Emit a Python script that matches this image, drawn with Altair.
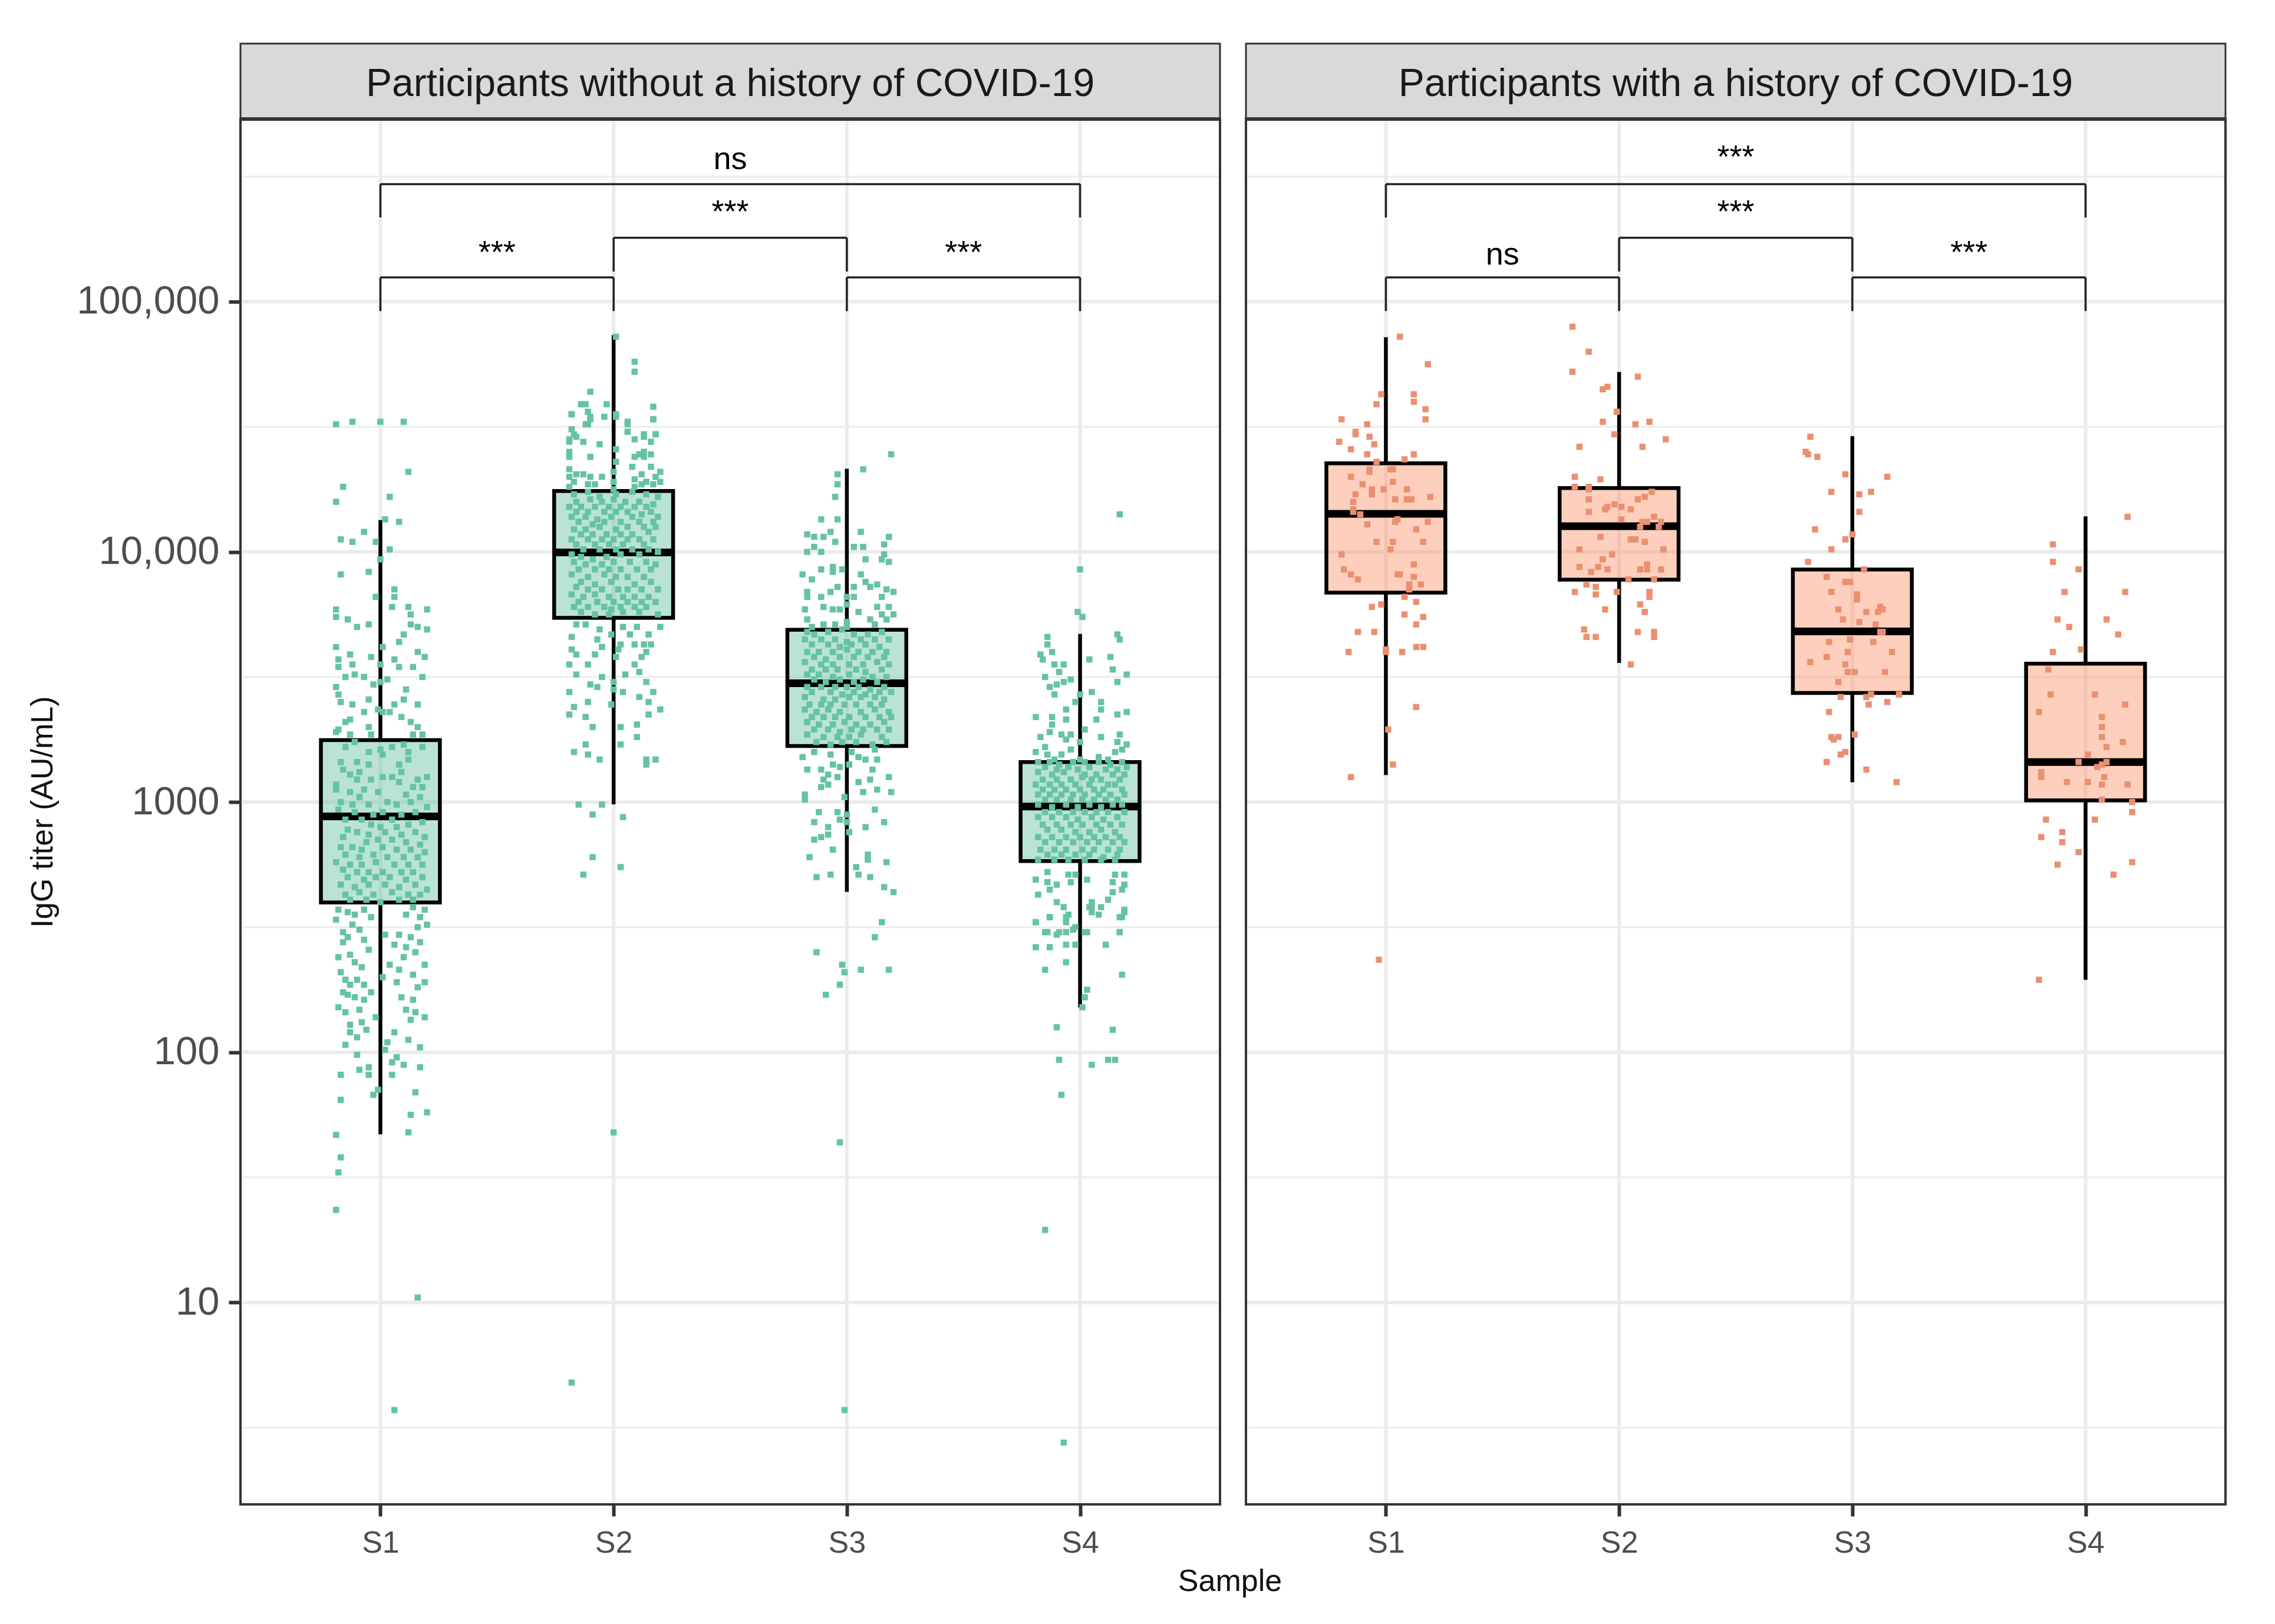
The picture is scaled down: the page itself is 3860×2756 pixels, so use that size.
import altair as alt
import pandas as pd

W, H = 1662, 2351
FONT = "Liberation Sans"
samples = ["S1", "S2", "S3", "S4"]
major_ticks = [10, 100, 1000, 10000, 100000]
minor_ticks = [3.162, 31.62, 316.2, 3162, 31623, 316228]
titles = ["Participants without a history of COVID-19", "Participants with a history of COVID-19"]

# box statistics (low whisker, q1, median, q3, high whisker), AU/mL
low_a = [47, 980, 438, 151]
q1_a = [397, 5450, 1676, 581]
med_a = [877, 9950, 2985, 960]
q3_a = [1770, 17500, 4885, 1445]
high_a = [13400, 73500, 21500, 4700]
low_b = [1283, 3600, 1200, 195]
q1_b = [6870, 7740, 2730, 1016]
med_b = [14200, 12670, 4810, 1445]
q3_b = [22600, 18000, 8500, 3575]
high_b = [72100, 52400, 29000, 13860]

# comparison brackets: from, to, level, tip
br_from = [1, 2, 1, 3]
br_to = [4, 3, 2, 4]
br_level = [295000, 180000, 125000, 125000]
br_tip = [217000, 132000, 91700, 91700]
# significance labels
sig_pos = [2.5, 2.5, 1.5, 3.5]
sig_a_txt = ["ns", "***", "***", "***"]
sig_a_y = [339000, 208000, 143000, 143000]
sig_b_txt = ["***", "***", "ns", "***"]
sig_b_y = [345000, 208000, 141000, 143000]

# individual titers: (horizontal jitter in 1/100 of a sample slot, 100*log10 titer)
a1 = [(-19,451),(-12,452),(0,452),(10,452),(12,432),(-16,426),(4,422),(-19,420),(2,413),(8,412),(-7,408),(-17,405),(-12,404),(-2,404),(4,401),(0,397),(-17,391),(-5,392),(6,385),(6,382),(-2,382),(5,378),(12,378),(20,377),(-19,377),(-19,374),(13,375),(-14,373),(-10,370),(-5,371),(16,370),(20,369),(13,371),(10,367),(1,362),(8,364),(-19,362),(-13,359),(-4,358),(6,357),(16,360),(19,358),(-18,357),(-18,354),(-12,355),(0,355),(8,354),(14,354),(18,350),(-7,350),(-11,351),(-15,350),(3,349),(0,348),(-3,347),(-19,346),(-18,343),(11,345),(10,341),(-5,341),(-17,340),(-12,339),(16,339),(6,339),(-1,337),(1,336),(4,336),(-7,336),(-13,333),(-15,332),(-18,329),(-19,328),(9,334),(13,332),(16,330),(14,327),(18,327),(-5,330),(-4,327),(-13,327),
(-15,322),(-11,324),(-5,320),(0,321),(5,322),(10,323),(12,320),(18,322),(-17,316),(-10,316),(-5,315),(1,319),(8,315),(12,317),(-16,313),(-13,311),(-9,312),(9,312),(5,310),(20,310),(16,309),(-19,307),(-10,309),(-4,309),(1,310),(8,308),(14,306),(18,306),(-19,305),(-13,304),(-7,305),(-1,304),(11,303),(17,302),(-17,300),(-9,302),(-12,299),(-5,299),(3,300),(7,299),(13,300),(20,298),(-18,297),(-11,296),(-3,295),(1,296),(9,295),(15,296),(5,293),(-15,293),(-8,293),(-4,291),(0,290),(12,291),(18,292),(7,290),(-14,289),(-10,288),(-5,287),(2,288),(9,287),(15,288),(19,286),(-16,286),(-6,284),(-1,285),(5,285),(11,284),(17,283),(-17,282),(-12,282),(-8,281),(1,282),(7,281),(13,281),(19,280),(-15,279),(-9,278),(-3,279),(3,278),(10,278),(16,278),(-19,276),(-13,275),(-8,275),(-2,276),(6,275),(12,275),(18,275),(-16,273),(-10,272),(-5,272),(1,272),(9,272),(14,272),(-14,270),(-7,269),(-2,270),(4,270),(11,269),(18,270),(-17,267),(-11,266),(-5,267),(2,267),(8,266),(15,267),(20,265),(-15,263),(-9,264),(-3,263),(5,264),(12,263),(17,263),(-13,261),(-6,261),(0,260),(8,261),(14,261),
(-18,257),(-11,255),(-4,254),(11,255),(17,254),(20,251),(-16,248),(-9,249),(2,247),(8,247),(13,246),(17,244),(-16,244),(-5,241),(6,243),(-13,239),(-18,238),(10,238),(19,235),(4,235),(-17,232),(1,230),(7,228),(19,228),(-13,227),(-7,227),(-14,223),(-4,224),(-7,221),(14,221),(11,217),(-18,218),(19,214),(13,213),(-2,214),(-13,211),(-8,212),(-13,208),(-10,206),(3,204),(17,202),(-10,199),(2,201),(7,198),(10,195),(17,194),(-5,194),(-5,191),(-17,191),(5,191),(-1,185),(15,184),(-3,183),(-17,181),(13,175),(20,176),(12,168),(-19,167),(-17,158),(-18,152),(-19,137),(16,102),(6,57),
(-14,256),(-7,257),(14,258),(19,257),(-19,253),(-12,251),(16,250),(-14,246),(-7,245),(11,242),(15,240),(-11,236),(-8,234),(8,233),(14,231),(-15,229),(-10,229),(16,226),(-16,224),(-11,222),(9,222),(-15,216),(-9,217),(15,216),(-6,209),(6,208),(12,205),(-15,203),(5,196),(-9,193)]
a2 = [(1,486),(9,476),(9,472),(-10,464),(-14,459),(-12,459),(-3,459),(-11,456),(-18,455),(1,455),(17,458),(-4,454),(-10,453),(17,453),(6,452),(-12,451),(-18,449),(6,448),(13,446),(18,447),(9,445),(-19,445),(-16,446),(-18,455),(-10,454),(1,454),(17,453),(-11,451),(6,451),(6,448),(-17,447),(13,447),(18,447),(-13,444),(-19,444),(-6,443),(16,444),(1,441),(9,438),(13,440),(-19,440),(16,439),(-10,438),(1,436),(-19,438),(8,434),(13,438),(11,439),(16,434),(-19,433),(20,432),(-13,431),(-10,430),(0,432),(-5,430),(12,431),(18,430),(-19,430),(-16,431),(-17,428),(-11,427),(-8,427),(0,428),(9,429),(14,428),(20,428),(-19,426),(17,427),(0,425),(9,426),(12,427),
(-17,423),(-11,424),(-6,422),(1,423),(8,424),(14,423),(19,422),(-16,420),(-10,421),(-5,420),(0,421),(5,420),(11,420),(17,419),(-19,418),(-14,418),(-8,418),(-2,418),(3,418),(9,418),(14,418),(-16,416),(-11,416),(-4,416),(1,416),(6,416),(12,415),(16,416),(-18,414),(-12,414),(-7,413),(-1,414),(8,414),(19,414),(-15,412),(-9,411),(-4,412),(3,412),(11,412),(17,412),(-17,409),(-12,409),(-6,410),(1,409),(6,410),(13,410),(18,410),(-14,407),(-9,407),(-3,407),(3,407),(8,407),(15,408),(-18,405),(-11,405),(-5,405),(0,405),(6,405),(11,405),(17,405),(-16,403),(-8,403),(-2,403),(4,403),(13,403),(-13,401),(-6,401),(1,401),(8,401),(15,401),(19,400),(-18,399),(-14,398),(-3,398),(3,399),(11,399),(-9,397),(-17,396),(-12,395),(-5,395),(0,396),(7,396),(14,396),(18,395),(-15,393),(-8,393),(-2,393),(3,393),(10,393),(16,393),(-18,391),(-11,390),(-4,391),(1,390),(6,390),(13,390),(-14,388),(-8,387),(-1,388),(9,387),(16,388),(-16,386),(-11,385),(-5,385),(2,385),(6,385),(12,385),(19,385),(-18,383),(-13,382),(-8,383),(-2,382),(4,382),(9,382),(15,382),(-15,380),(-7,380),(0,380),(6,380),(12,380),(18,380),(-17,378),(-11,378),(-4,378),(-1,377),(3,378),(9,378),(14,378),(-14,376),(-8,375),(-2,375),(4,376),(11,376),(19,375),
(-16,371),(-12,371),(-6,369),(4,370),(10,370),(15,367),(20,370),(-18,366),(-7,365),(-1,367),(7,367),(3,363),(9,363),(13,363),(16,363),(-18,361),(-5,362),(-16,359),(-8,359),(2,361),(14,360),(12,358),(-19,355),(-11,355),(1,358),(9,355),(-16,351),(-5,350),(11,352),(5,351),(-10,347),(0,348),(14,348),(-7,346),(0,345),(17,344),(-19,344),(4,344),(11,342),(-11,340),(-1,339),(15,340),(-17,338),(20,337),(-19,335),(-12,334),(15,335),(-9,330),(3,330),(10,331),(10,326),(3,323),(-12,323),(-17,320),(-11,319),(-6,317),(14,317),(18,317),(14,315),(-15,299),(-5,299),(-9,295),(4,294),(-9,278),(3,274),(-13,271),(0,168),(-18,68)]
a3 = [(19,439),(7,433),(-4,431),(-4,427),(-5,422),(-11,413),(-4,413),(6,408),(-7,408),(-17,407),(-14,406),(-10,406),(-5,404),(18,406),(16,403),(3,402),(7,402),(-17,400),(-14,402),(-11,400),(16,399),(8,397),(15,397),(18,396),(-11,393),(-6,394),(-2,393),(-6,392),(-19,391),(-15,389),(6,391),(8,388),(13,387),(3,386),(-4,386),(-17,384),(-7,384),(10,386),(17,385),(20,384),(15,382),(0,382),(3,382),(-11,382),(-17,382),(-10,378),(-18,377),(-6,377),(-3,377),(5,376),(13,378),(18,378),(20,375),(0,379),(15,375),(-17,373),(10,373),(17,373),(-10,371),(-5,371),(0,372),(-15,370),(12,371),(0,370),
(-17,368),(-14,367),(-8,368),(-2,369),(3,367),(9,367),(15,368),(-18,365),(-11,365),(-5,365),(0,364),(6,365),(12,365),(18,365),(-15,363),(-8,363),(-3,362),(2,363),(8,363),(14,362),(-17,360),(-12,360),(-6,360),(0,361),(5,360),(11,360),(17,360),(-14,358),(-9,357),(-3,358),(3,358),(9,358),(16,358),(-18,356),(-11,355),(-6,355),(1,355),(7,355),(13,356),(18,355),(-15,353),(-9,353),(-4,353),(4,353),(8,352),(15,353),(-17,351),(-12,351),(-6,350),(1,351),(11,350),(17,350),(-14,349),(-9,348),(-3,349),(3,348),(7,349),(13,348),(-17,346),(-11,346),(-5,346),(0,346),(5,346),(10,345),(16,346),(-15,344),(-7,344),(-2,343),(3,344),(8,343),(14,344),(19,344),(-18,342),(-10,341),(-5,341),(1,342),(6,342),(12,342),(16,341),(-16,339),(-11,339),(-7,339),(-1,339),(4,339),(10,339),(15,339),(-18,337),(-13,336),(-8,337),(-3,336),(6,336),(12,337),(18,336),(-15,334),(-10,334),(-5,334),(1,334),(8,334),(14,334),(19,334),(-17,332),(-12,331),(-6,331),(-1,332),(4,331),(10,331),(16,332),(-14,329),(-8,329),(-3,328),(2,329),(7,329),(13,329),(18,329),(-17,327),(-10,326),(-4,326),(1,326),(6,327),(15,326),(-13,324),(-7,323),(-2,324),(4,324),(11,323),(17,324),
(-14,320),(-19,318),(-7,319),(2,320),(5,318),(8,317),(12,321),(13,317),(-17,313),(-6,315),(-3,314),(1,315),(-11,313),(-8,311),(11,313),(-4,310),(-10,309),(5,308),(10,309),(18,310),(-11,306),(-8,307),(7,304),(13,305),(19,304),(-18,303),(-1,302),(-18,301),(-12,296),(-4,296),(0,295),(12,297),(-3,293),(0,292),(16,292),(-14,292),(-8,290),(8,290),(1,288),(-11,286),(-8,287),(-14,285),(-6,281),(-16,278),(9,279),(9,277),(4,274),(17,276),(-13,270),(-7,271),(5,271),(10,270),(16,266),(20,264),(15,252),(12,246),(-13,240),(-2,235),(-1,232),(6,233),(18,233),(-3,227),(-9,223),(-3,164),(-1,57)]
a4 = [(17,415),(0,393),(-1,376),(1,374),(-14,366),(-14,363),(16,367),(17,365),(-17,359),(-12,360),(-16,357),(4,357),(13,358),(14,353),(20,351),(-11,355),(-7,355),(-9,352),(-15,350),(-7,348),(-4,349),(16,348),(-13,346),(-10,347),(-11,343),(5,344),(-2,340),(9,340),(0,343),(9,337),(20,336),(16,335),(-6,337),(-19,334),(-12,334),(-6,333),(7,333),(-12,331),(2,329),(-13,328),(-8,327),(-4,327),(9,326),(17,327),(-17,326),(0,324),(-6,325),(16,324),(20,323),(-15,322),(-4,321),(18,321),(15,320),(-19,320),(-14,319),(-8,319),(8,318),(12,317),(-11,317),(0,317),
(-18,316),(-13,316),(-9,315),(-3,316),(2,316),(8,316),(13,315),(18,316),(-15,314),(-10,313),(-5,314),(-1,313),(4,314),(11,313),(16,313),(20,314),(-18,312),(-12,311),(-7,312),(2,311),(7,311),(14,311),(19,311),(-16,309),(-10,309),(-4,309),(1,310),(5,309),(9,309),(17,309),(-19,307),(-13,307),(-8,307),(-2,307),(4,307),(12,307),(15,307),(-16,305),(-11,305),(-6,305),(0,305),(6,305),(10,305),(18,305),(-18,303),(-13,303),(-8,303),(-3,303),(2,303),(8,303),(13,303),(19,303),(-15,301),(-10,301),(-4,301),(1,301),(6,301),(11,301),(16,301),(-18,299),(-12,298),(-6,299),(-1,298),(4,299),(9,298),(14,299),(18,299),(-15,296),(-9,296),(-3,296),(2,296),(7,296),(12,296),(19,296),(-18,294),(-12,294),(-6,294),(-1,293),(5,294),(10,293),(16,294),(-16,291),(-10,291),(-4,291),(1,291),(7,291),(13,291),(18,291),(-14,289),(-8,289),(-2,288),(4,288),(9,289),(15,288),(-18,286),(-12,286),(-6,286),(0,286),(6,286),(11,286),(17,286),(-15,284),(-9,284),(-3,284),(3,284),(8,284),(14,284),(19,284),(-17,281),(-11,281),(-6,281),(1,281),(6,281),(12,281),(17,281),(-14,279),(-8,279),(-2,279),(4,279),(10,278),(16,279),(-18,277),(-11,277),(-5,277),(2,277),(9,277),(15,277),
(-14,272),(-5,271),(3,269),(-19,269),(-14,268),(-2,271),(15,271),(19,271),(14,268),(-10,267),(-4,268),(19,267),(-13,265),(-18,263),(14,264),(18,265),(-10,260),(5,260),(12,261),(-7,258),(4,258),(9,258),(19,257),(-5,255),(5,256),(-13,254),(-19,252),(-6,252),(17,254),(-2,250),(3,248),(-14,248),(-9,248),(-6,248),(17,248),(-19,252),(-13,254),(-6,254),(5,258),(8,255),(19,256),(18,254),(-15,248),(-10,247),(-3,249),(2,248),(17,248),(-19,242),(-13,242),(-6,243),(-2,243),(11,243),(-6,236),(-15,233),(18,231),(3,225),(2,222),(1,218),(-10,210),(14,209),(-9,197),(5,195),(12,197),(15,197),(-8,183),(-15,129),(-7,44)]
b1 = [(6,486),(18,475),(-2,463),(12,463),(-4,459),(12,460),(17,457),(17,453),(-19,453),(-8,451),(-13,448),(-13,447),(-7,446),(-20,444),(-5,443),(-15,441),(-8,439),(12,439),(8,437),(-4,436),(-7,433),(-7,432),(2,433),(3,433),(-15,430),(3,428),(-10,427),(-13,423),(-6,425),(-6,423),(-1,425),(9,425),(19,422),(4,421),(9,421),(11,421),(-14,420),(-14,417),(-14,416),(-11,415),(4,412),(5,413),(18,412),(-8,411),(13,409),(-4,404),(3,404),(16,404),(2,401),(-19,399),(12,395),(-18,393),(-15,391),(-12,389),(5,391),(6,391),(12,390),(10,387),(15,387),(10,385),(8,382),(13,380),(-2,379),(-6,378),(8,375),(16,374),(13,371),(-12,368),(-5,368),(13,362),(16,362),(-16,360),(0,361),(7,360),(0,360),(13,338),(1,329),(3,315),(-15,310),(-3,237)]
b2 = [(-20,490),(-13,480),(-20,472),(8,470),(-7,465),(-5,466),(-1,456),(-7,452),(7,451),(13,452),(-2,447),(20,445),(-17,442),(10,442),(-19,430),(-8,429),(-19,426),(-13,426),(-13,425),(14,424),(11,422),(8,421),(-13,421),(-5,418),(-6,417),(-2,419),(1,418),(5,417),(-13,416),(1,413),(15,414),(12,412),(10,412),(9,410),(18,412),(17,410),(-8,406),(5,405),(7,405),(11,404),(-17,401),(19,401),(-3,399),(-7,397),(-17,394),(-9,394),(-5,393),(-12,392),(12,395),(9,393),(12,393),(18,393),(4,389),(15,389),(-14,387),(-10,386),(-19,384),(-10,383),(-1,384),(13,384),(13,382),(9,379),(11,376),(-6,377),(-15,369),(-14,366),(-10,366),(8,368),(15,368),(15,366),(5,355)]
b3 = [(-18,446),(-20,440),(-19,439),(-15,438),(-3,431),(15,430),(-9,424),(3,423),(8,424),(3,416),(-16,409),(0,407),(-3,405),(-9,401),(-19,396),(5,393),(-11,390),(-3,388),(-1,388),(-9,384),(2,383),(2,381),(-6,377),(6,376),(11,376),(12,378),(13,377),(-4,373),(3,372),(10,371),(12,368),(13,368),(-1,365),(-10,364),(9,364),(-2,360),(-11,358),(17,360),(-18,356),(-3,355),(-2,352),(1,352),(14,352),(-6,348),(-5,342),(6,342),(8,343),(20,343),(7,339),(15,340),(-10,336),(1,327),(-9,326),(-8,325),(-6,326),(-3,320),(-5,319),(-11,316),(6,313),(19,308)]
b4 = [(18,414),(-14,403),(-14,396),(-3,393),(-9,384),(17,384),(-12,373),(9,373),(-7,370),(14,367),(-2,361),(-14,360),(-16,353),(-15,343),(4,343),(17,339),(-20,336),(7,334),(7,330),(7,326),(9,322),(16,324),(1,319),(-3,316),(9,316),(7,315),(5,314),(-19,312),(-19,310),(8,310),(-8,308),(1,308),(7,307),(18,307),(7,301),(20,300),(20,296),(-17,293),(4,293),(-10,288),(-19,286),(-10,284),(-3,280),(-12,275),(20,276),(12,271),(-20,229)]


def points_frame(cols):
    rows = []
    for i, col in enumerate(cols):
        for dx, lg in col:
            rows.append({"pos": i + 1 + dx / 100, "titer": 10 ** (lg / 100)})
    return pd.DataFrame(rows)


xs = alt.Scale(domain=[0.4, 4.6], nice=False, zero=False)
ys = alt.Scale(type="log", domain=[1.56, 537000], nice=False)
TICK = "#333333"


def panel(cols, low, q1, med, q3, high, dot, fill, fill_op, title, sig_txt, sig_y, with_y, extra=None):
    boxes = pd.DataFrame({"pos": [1, 2, 3, 4], "left": [i + 0.745 for i in range(4)], "right": [i + 1.255 for i in range(4)],
                          "low": low, "q1": q1, "med": med, "q3": q3, "high": high})
    br = pd.DataFrame({"a": br_from, "b": br_to, "level": br_level, "tip": br_tip})
    sig = pd.DataFrame({"pos": sig_pos, "y": sig_y, "t": sig_txt})
    x_axis = alt.Axis(values=[1, 2, 3, 4], labelExpr="'S' + datum.value", grid=False, domain=False, tickSize=20, tickWidth=6,
                      tickColor=TICK, labelFontSize=52, labelColor="#4D4D4D", labelFont=FONT, labelPadding=20, labelAngle=0, title=None)
    if with_y:
        y_axis = alt.Axis(values=major_ticks, labelExpr="datum.value >= 10000 ? format(datum.value, ',') : format(datum.value, 'd')",
                          grid=False, domain=False, tickSize=20, tickWidth=6, tickColor=TICK, labelFontSize=67, labelColor="#4D4D4D",
                          labelFont=FONT, labelPadding=16, labelLimit=500, title="IgG titer (AU/mL)", titleFontSize=52, titleFont=FONT,
                          titleFontWeight="normal", titleColor="#111111", titlePadding=109)
    else:
        y_axis = None

    def X(field):
        return alt.X(field, type="quantitative", scale=xs, axis=x_axis)

    def Y(field):
        return alt.Y(field, type="quantitative", scale=ys, axis=y_axis)

    blank = alt.Data(values=[{"k": 1}])
    layers = [
        alt.Chart(pd.DataFrame({"v": minor_ticks})).mark_rule(color="#EDEDED", strokeWidth=3.5).encode(y=Y("v")),
        alt.Chart(pd.DataFrame({"v": major_ticks})).mark_rule(color="#EBEBEB", strokeWidth=6).encode(y=Y("v")),
        alt.Chart(pd.DataFrame({"v": [1, 2, 3, 4]})).mark_rule(color="#EBEBEB", strokeWidth=6).encode(x=X("v")),
        alt.Chart(boxes).mark_rule(color="black", strokeWidth=6.5).encode(x=X("pos"), y=Y("low"), y2="q1"),
        alt.Chart(boxes).mark_rule(color="black", strokeWidth=6.5).encode(x=X("pos"), y=Y("q3"), y2="high"),
        alt.Chart(boxes).mark_rect(fill=fill, fillOpacity=fill_op, stroke="black", strokeWidth=6.5).encode(x=X("left"), x2="right", y=Y("q1"), y2="q3"),
        alt.Chart(boxes).mark_rule(color="black", strokeWidth=13).encode(x=X("left"), x2="right", y=Y("med")),
        alt.Chart(points_frame(cols)).mark_square(color=dot, size=110, opacity=1).encode(x=X("pos"), y=Y("titer")),
        alt.Chart(br).mark_rule(color="#222222", strokeWidth=3.5).encode(x=X("a"), x2="b", y=Y("level")),
        alt.Chart(br).mark_rule(color="#222222", strokeWidth=3.5).encode(x=X("a"), y=Y("level"), y2="tip"),
        alt.Chart(br).mark_rule(color="#222222", strokeWidth=3.5).encode(x=X("b"), y=Y("level"), y2="tip"),
        alt.Chart(sig).mark_text(font=FONT, fontSize=54, color="black", baseline="alphabetic", align="center").encode(x=X("pos"), y=Y("y"), text="t:N"),
        alt.Chart(blank).mark_rect(fill="#D9D9D9", stroke=TICK, strokeWidth=3).encode(x=alt.value(0), x2=alt.value(W), y=alt.value(-128), y2=alt.value(0)),
        alt.Chart(blank).mark_text(text=title, font=FONT, fontSize=66, color="#1A1A1A", baseline="middle", align="center").encode(x=alt.value(W / 2), y=alt.value(-59)),
        alt.Chart(blank).mark_rect(filled=False, stroke=TICK, strokeWidth=4).encode(x=alt.value(0), x2=alt.value(W), y=alt.value(0), y2=alt.value(H)),
        alt.Chart(blank).mark_rule(color=TICK, strokeWidth=6).encode(x=alt.value(0), x2=alt.value(W), y=alt.value(0)),
    ]
    if extra:
        layers.append(alt.Chart(blank).mark_text(text=extra, font=FONT, fontSize=52, color="#111111", baseline="middle", align="center").encode(x=alt.value(W + 17), y=alt.value(H + 131)))
    return alt.layer(*layers).properties(width=W, height=H)


left = panel([a1, a2, a3, a4], low_a, q1_a, med_a, q3_a, high_a, "#66C2A5", "#66C2A5", 0.45, titles[0], sig_a_txt, sig_a_y, True, "Sample")
right = panel([b1, b2, b3, b4], low_b, q1_b, med_b, q3_b, high_b, "#EA9070", "#FC8D62", 0.42, titles[1], sig_b_txt, sig_b_y, False)

chart = alt.hconcat(left, right, spacing=44, bounds="flush").properties(
    padding={"left": 37, "top": 64, "right": 10, "bottom": 10}
).configure_view(stroke=None).configure(background="white")
chart.save("out.html", embed_options={"renderer": "svg", "actions": False})
